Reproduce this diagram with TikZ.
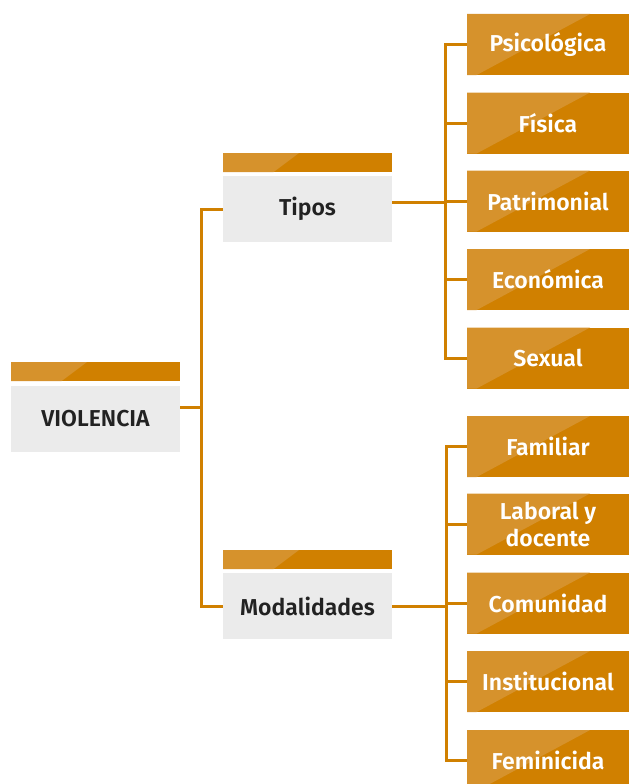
\documentclass[tikz,border=0pt]{standalone}
\usepackage{fontspec}
\setmainfont{Fira Sans}[BoldFont={Fira Sans SemiBold}]
\usetikzlibrary{calc}
\definecolor{naranja}{HTML}{D08000}
\definecolor{naranjaclaro}{HTML}{D6922C}
\definecolor{gris}{HTML}{EBEBEB}
\definecolor{tinta}{HTML}{222222}
\tikzset{
  rama/.style={draw=naranja, line width=3pt},
  brillo/.style n args={2}{path picture={
      \fill[naranjaclaro] (path picture bounding box.north west)
        -- ($(path picture bounding box.north west)!#1!(path picture bounding box.north east)$)
        -- ($(path picture bounding box.south west)!#2!(path picture bounding box.south east)$)
        -- (path picture bounding box.south west) -- cycle;}},
  hoja/.style={brillo={0.76}{0.06}, fill=naranja, text=white, minimum width=162pt,
    minimum height=61pt, inner sep=0pt, align=center,
    font=\bfseries\fontsize{23}{25}\selectfont},
  caja/.style={fill=gris, text=tinta, minimum width=169pt, minimum height=66pt,
    inner sep=0pt, font=\bfseries\fontsize{23}{25}\selectfont},
  barra/.style={brillo={0.45}{0.3}, fill=naranja, minimum width=169pt,
    minimum height=19pt, inner sep=0pt}
}
\begin{document}
\begin{tikzpicture}[x=1pt, y=-1pt]
  \useasboundingbox (0,0) rectangle (629,784);
  \node[barra] (barViolencia) at (95.5,371.5) {};
  \node[caja] (violencia) at (95.5,419) {VIOLENCIA};
  \node[barra] (barTipos) at (307.5,162.5) {};
  \node[caja] (tipos) at (307.5,209) {Tipos};
  \node[barra] (barModalidades) at (307.5,559.5) {};
  \node[caja] (modalidades) at (307.5,606) {Modalidades};
  \foreach \n/\y/\t in {psicologica/44.5/Psicológica, fisica/123/Física,
      patrimonial/201/Patrimonial, economica/279.5/Económica, sexual/358/Sexual,
      familiar/446.5/Familiar, laboral/524/{Laboral y\\[2pt]docente},
      comunidad/603/Comunidad, institucional/681.5/Institucional,
      feminicida/760.5/Feminicida}
    \node[hoja] (\n) at (548,\y) {\t};
  \coordinate (ejeV) at (201,0);
  \coordinate (ejeT) at (445,0);
  \coordinate (ejeM) at (446,0);
  \draw[rama] (tipos.west) -- (tipos.west -| ejeV) -- (modalidades.west -| ejeV) -- (modalidades.west);
  \draw[rama] ($(violencia.east)+(0,-12)$) -- ($(violencia.east -| ejeV)+(0,-12)$);
  \draw[rama] (psicologica.west) -- (psicologica.west -| ejeT) -- (sexual.west -| ejeT) -- (sexual.west);
  \draw[rama] ($(tipos.east)+(0,-7)$) -- ($(tipos.east -| ejeT)+(0,-7)$);
  \foreach \n in {fisica, patrimonial, economica}
    \draw[rama] (\n.west) -- (\n.west -| ejeT);
  \draw[rama] (familiar.west) -- (familiar.west -| ejeM) -- (feminicida.west -| ejeM) -- (feminicida.west);
  \draw[rama] (modalidades.east) -- (modalidades.east -| ejeM);
  \foreach \n in {laboral, comunidad, institucional}
    \draw[rama] (\n.west) -- (\n.west -| ejeM);
\end{tikzpicture}
\end{document}
